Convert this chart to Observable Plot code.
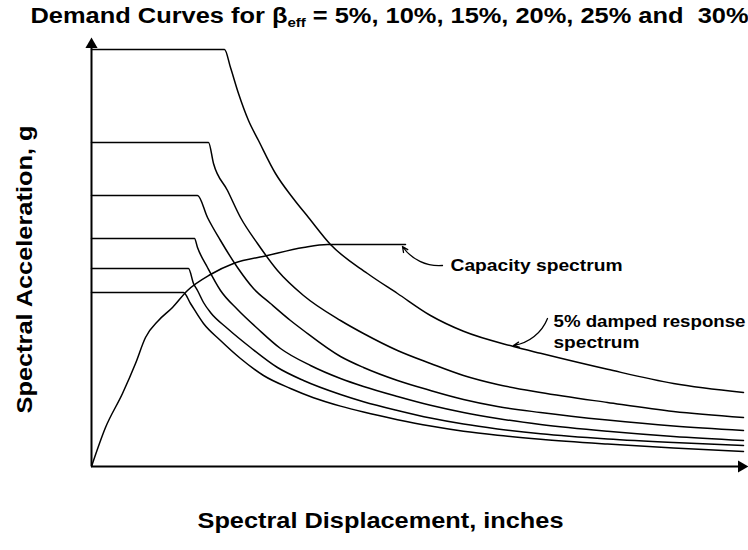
<!DOCTYPE html>
<html>
<head>
<meta charset="utf-8">
<script src="https://cdn.jsdelivr.net/npm/d3@7"></script>
<script src="https://cdn.jsdelivr.net/npm/@observablehq/plot@0.6"></script>
<style>
  body { margin: 0; background: #fff; }
  #chart svg { display: block; }
</style>
</head>
<body>
<div id="chart"></div>
<script>
// ---- Data (Sd in inches, Sa in g; schematic values) ----
const dampingLevels = ["5%", "10%", "15%", "20%", "25%", "30%"];

const demand5 = [[0,1.0425],[2.66,1.0425],[2.78,0.9975],[2.94,0.9325],[3.14,0.865],[3.34,0.815],[3.68,0.7325],[4.02,0.6725],[4.34,0.6225],[4.78,0.555],[5.52,0.4825],[6.12,0.4325],[6.78,0.3775],[7.44,0.338],[8.44,0.300],[8.98,0.283],[10.32,0.243],[11.64,0.2075],[13.04,0.185]];
const demand10 = [[0,0.81],[2.34,0.81],[2.44,0.7575],[2.72,0.69],[2.98,0.6225],[3.32,0.5575],[3.72,0.49],[4.24,0.4275],[4.98,0.365],[5.44,0.3325],[6.12,0.29],[6.78,0.2575],[7.44,0.2275],[8.12,0.205],[8.98,0.185],[10.32,0.16],[11.64,0.1375],[13.04,0.1225]];
const demand15 = [[0,0.6775],[2.12,0.6775],[2.32,0.6225],[2.58,0.565],[2.92,0.4975],[3.24,0.445],[3.58,0.4075],[3.98,0.365],[4.24,0.34],[4.98,0.275],[5.44,0.2475],[6.12,0.215],[6.78,0.19],[7.44,0.1675],[8.12,0.15],[8.98,0.135],[10.32,0.116],[11.64,0.101],[13.04,0.09]];
const demand20 = [[0,0.57],[2.06,0.57],[2.12,0.5475],[2.32,0.4975],[2.58,0.44],[2.92,0.3925],[3.32,0.345],[3.78,0.295],[4.38,0.2525],[4.98,0.22],[5.44,0.20],[6.12,0.175],[6.78,0.153],[7.44,0.135],[8.12,0.12],[8.98,0.105],[10.32,0.088],[11.64,0.075],[13.04,0.065]];
const demand25 = [[0,0.495],[1.94,0.495],[2.04,0.4575],[2.12,0.44],[2.24,0.41],[2.38,0.385],[2.72,0.345],[3.18,0.2975],[3.72,0.2475],[4.24,0.215],[4.98,0.18],[5.44,0.162],[6.12,0.14],[6.78,0.121],[7.44,0.106],[8.12,0.094],[8.98,0.082],[10.32,0.069],[11.64,0.06],[13.04,0.0525]];
const demand30 = [[0,0.435],[1.84,0.435],[1.98,0.4075],[2.24,0.3575],[2.58,0.315],[2.98,0.27],[3.44,0.2275],[3.98,0.195],[4.44,0.172],[4.98,0.151],[5.44,0.136],[6.12,0.117],[6.78,0.101],[7.44,0.088],[8.12,0.078],[8.98,0.068],[10.32,0.056],[11.64,0.046],[13.04,0.0375]];

const capacity = [[0,0],[0.28,0.0975],[0.62,0.1825],[0.88,0.2575],[1.08,0.3225],[1.34,0.365],[1.62,0.3975],[1.92,0.44],[2.38,0.48],[2.84,0.5075],[3.52,0.5275],[4.24,0.5475],[4.72,0.555],[6.28,0.555]];

const annotationLabels = ["Capacity spectrum", "5% damped response", "spectrum"];
const annotationAt = [[7.18, 0.5025], [9.24, 0.3625], [9.24, 0.31]];
const annotationArrows = [[7.02, 0.5025, 6.22, 0.55], [9.12, 0.37, 8.44, 0.3025]];

const titleText = "Demand Curves for \u03B2eff = 5%, 10%, 15%, 20%, 25% and  30%";
const xLabel = "Spectral Displacement, inches";
const yLabel = "Spectral Acceleration, g";

const sdMax = 13;
const saMax = 1.055;

// ---- Tables built from the arrays ----
const demandCurves = [demand5, demand10, demand15, demand20, demand25, demand30];
const demandRows = demandCurves.flatMap((pts, i) =>
  pts.map(([sd, sa]) => ({beta: dampingLevels[i], sd, sa})));
const capacityRows = capacity.map(([sd, sa]) => ({sd, sa}));
const labelRows = annotationLabels.map((t, i) => ({text: t, sd: annotationAt[i][0], sa: annotationAt[i][1]}));
const arrowRows = annotationArrows.map(([a, b, c, d]) => ({x1: a, y1: b, x2: c, y2: d}));

const font = "'Liberation Sans', Arial, sans-serif";

const chart = Plot.plot({
  width: 748,
  height: 550,
  marginLeft: 91,
  marginRight: 7,
  marginTop: 44,
  marginBottom: 84,
  style: {fontFamily: font, background: "#fff", color: "#000"},
  x: {domain: [0, sdMax], axis: null},
  y: {domain: [0, saMax], axis: null},
  marks: [
    Plot.ruleY([0], {stroke: "#000", strokeWidth: 2}),
    Plot.ruleX([0], {stroke: "#000", strokeWidth: 2}),
    Plot.dot([{sd: 0, sa: saMax}], {x: "sd", y: "sa", symbol: "triangle", r: 4.5, fill: "#000", stroke: "none"}),
    Plot.dot([{sd: sdMax, sa: 0}], {x: "sd", y: "sa", symbol: "triangle", r: 4.5, fill: "#000", stroke: "none", rotate: 90}),
    Plot.line(demandRows, {x: "sd", y: "sa", z: "beta", stroke: "#000", strokeWidth: 1.5, curve: "monotone-x"}),
    Plot.line(capacityRows, {x: "sd", y: "sa", stroke: "#000", strokeWidth: 1.5, curve: "monotone-x"}),
    Plot.arrow(arrowRows, {x1: "x1", y1: "y1", x2: "x2", y2: "y2", bend: 30, stroke: "#000", strokeWidth: 1.3, headLength: 7, headAngle: 50}),
    Plot.text(labelRows, {x: "sd", y: "sa", text: "text", textAnchor: "start", fontSize: 17, fontWeight: "bold", fill: "#000"}),
    Plot.text([titleText], {frameAnchor: "top-left", dx: -61, dy: -22, textAnchor: "start", lineAnchor: "bottom", fontSize: 22, fontWeight: "bold", fill: "#000"}),
    Plot.text([xLabel], {frameAnchor: "bottom", dx: -36, dy: 61, textAnchor: "middle", fontSize: 22, fontWeight: "bold", fill: "#000"}),
    Plot.text([yLabel], {frameAnchor: "left", dx: -67, dy: 14, rotate: -90, textAnchor: "middle", fontSize: 22, fontWeight: "bold", fill: "#000"})
  ]
});

document.getElementById("chart").appendChild(chart);

// Stretch texts to the widths seen in the figure, and set the subscript.
const widths = new Map([
  [titleText, 718], [xLabel, 366], [yLabel, 288],
  ["Capacity spectrum", 172], ["5% damped response", 192], ["spectrum", 86]
]);
d3.select(chart).selectAll("text").each(function() {
  const t = this.textContent;
  if (!widths.has(t)) return;
  const sel = d3.select(this);
  sel.attr("textLength", widths.get(t)).attr("lengthAdjust", "spacingAndGlyphs");
  if (t === titleText) {
    sel.style("white-space", "pre").text(null);
    sel.append("tspan").text("Demand Curves for \u03B2");
    sel.append("tspan").attr("dy", 4).attr("font-size", 13).text("eff");
    sel.append("tspan").attr("dy", -4).text(" = 5%, 10%, 15%, 20%, 25% and  30%");
  }
});
</script>
</body>
</html>
